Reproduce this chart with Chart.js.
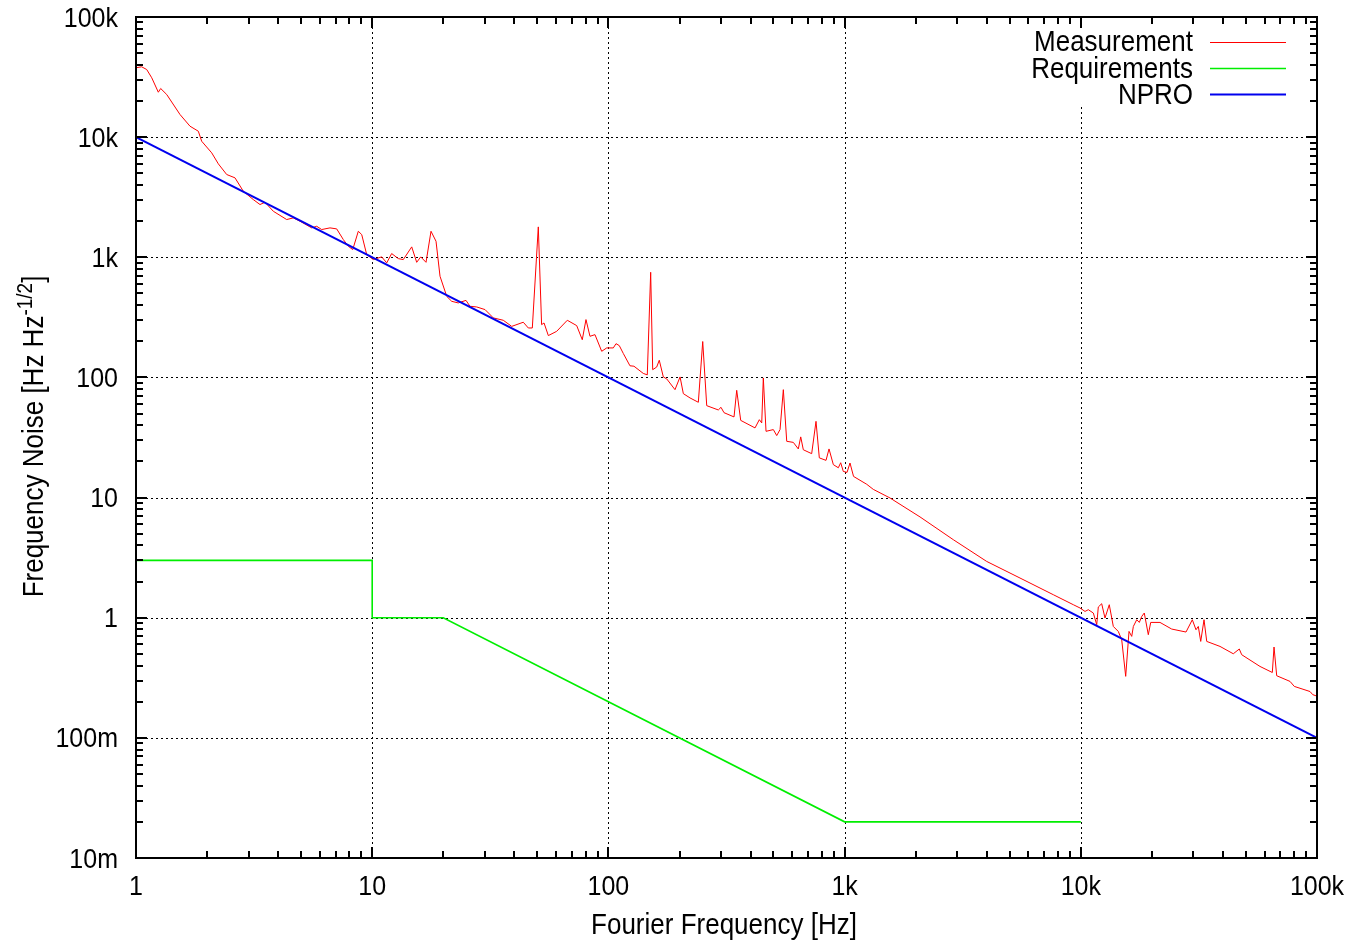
<!DOCTYPE html>
<html>
<head>
<meta charset="utf-8">
<title>Frequency noise</title>
<script src="https://cdn.jsdelivr.net/npm/chart.js@4.4.0/dist/chart.umd.min.js"></script>
<style>
  html, body { margin: 0; padding: 0; background: #fff; }
  #wrap { width: 1365px; height: 944px; }
</style>
</head>
<body>
<div id="wrap"><canvas id="noiseChart" width="1365" height="944"></canvas></div>
<script>
// Fourier frequency [Hz] vs frequency noise [Hz/sqrt(Hz)]
const measFreq = [1.0, 1.057, 1.11, 1.166, 1.243, 1.272, 1.349, 1.536, 1.693, 1.836,
  1.897, 2.092, 2.231, 2.421, 2.625, 2.847, 3.138, 3.35, 3.517, 3.814,
  4.345, 4.634, 4.948, 5.545, 5.821, 6.112, 6.627, 7.074, 7.546, 7.922,
  8.272, 8.733, 9.03, 9.478, 10.11, 10.97, 11.52, 12.09, 12.9, 13.54,
  14.7, 15.43, 16.05, 16.9, 17.74, 18.63, 19.37, 20.68, 21.71, 23.14,
  24.95, 25.94, 27.7, 30.04, 32.57, 35.89, 38.96, 43.62, 45.81, 47.63,
  50.49, 52.14, 53.4, 55.68, 60.4, 66.99, 73.41, 77.52, 80.37, 83.56,
  87.74, 93.67, 98.35, 104.9, 107.7, 111.2, 115.7, 123.4, 128.3, 140.5,
  146.1, 151.0, 154.0, 160.1, 164.2, 170.8, 176.6, 191.4, 201.1, 207.6,
  221.6, 240.3, 250.8, 260.8, 292.0, 299.7, 308.6, 340.3, 349.3, 363.2,
  417.6, 435.5, 445.8, 452.8, 464.9, 499.2, 516.0, 532.9, 550.3, 568.8,
  606.6, 636.8, 652.0, 668.7, 725.5, 756.8, 781.6, 834.3, 859.1, 896.0,
  940.6, 962.7, 987.4, 1024, 1054, 1091, 1241, 1323, 1557, 2086,
  2886, 3996, 5528, 7649, 9297, 9922, 10420, 10760, 11300, 11680,
  11860, 12260, 12660, 13200, 13730, 14410, 14900, 15490, 16000, 16430,
  16690, 17250, 17690, 18110, 18570, 19310, 19770, 21640, 24250, 27890,
  29660, 30740, 31440, 32190, 33240, 34130, 38850, 44220, 46880, 48000,
  57370, 64690, 65770, 67510, 76870, 80160, 93420, 95900, 99000];
const measNoise = [37800, 38500, 36550, 31190, 23650, 25410, 22640, 15420, 12330, 11200,
  9245, 7400, 5995, 4885, 4585, 3545, 3022, 2748, 2872, 2416,
  2061, 2128, 1995, 1757, 1812, 1702, 1757, 1723, 1404, 1236,
  1159, 1647, 1545, 1053, 957, 1008, 898, 1074, 975, 957,
  1221, 908, 1008, 908, 1647, 1359, 695, 473, 430, 417,
  438, 391, 386, 367, 313, 299, 266, 288, 258, 258,
  1791, 275, 284, 223, 242, 299, 270, 206, 303, 220,
  227, 165, 176, 176, 191, 184, 158, 125, 124, 108,
  105, 750, 116, 122, 139, 101, 97.2, 79.1, 101, 73.3,
  67.5, 62.1, 199, 58.2, 53.6, 56.4, 50.9, 46.9, 78.1, 43.9,
  38.0, 44.5, 41.8, 99.0, 35.6, 36.8, 32.8, 36.8, 79.1, 29.4,
  28.8, 25.4, 32.0, 25.0, 23.2, 43.1, 21.4, 20.4, 25.4, 18.8,
  17.7, 19.5, 16.5, 16.2, 19.4, 15.0, 12.9, 11.7, 9.92, 6.90,
  4.46, 2.94, 2.14, 1.554, 1.283, 1.205, 1.128, 1.166, 1.094, 0.874,
  1.228, 1.308, 0.994, 1.283, 0.846, 0.769, 0.656, 0.325, 0.769, 0.699,
  0.846, 0.962, 0.914, 1.025, 1.094, 0.722, 0.914, 0.914, 0.805, 0.760,
  0.962, 0.794, 0.846, 0.635, 0.962, 0.635, 0.577, 0.501, 0.549, 0.492,
  0.393, 0.350, 0.570, 0.329, 0.295, 0.268, 0.243, 0.229, 0.224];

const reqFreq = [1, 10, 10, 20, 1000, 10000];
const reqNoise = [3, 3, 1, 1, 0.02, 0.02];

const nproFreq = [1, 100000];
const nproNoise = [10000, 0.1];

const xTicks = [1, 10, 100, 1000, 10000, 100000];
const xTickLabels = ['1', '10', '100', '1k', '10k', '100k'];
const yTicks = [0.01, 0.1, 1, 10, 100, 1000, 10000, 100000];
const yTickLabels = ['10m', '100m', '1', '10', '100', '1k', '10k', '100k'];

const FONT = '"Liberation Sans", Arial, sans-serif';
const STRETCH = 1.12; // gnuplot glyphs are a bit taller than Arial

function pairs(xs, ys) {
    return xs.map((v, i) => ({ x: v, y: ys[i] }));
}

function drawText(ctx, text, x, y, size, align) {
    ctx.save();
    ctx.translate(x, y);
    ctx.scale(1, STRETCH);
    ctx.font = size + 'px ' + FONT;
    ctx.textAlign = align;
    ctx.textBaseline = 'alphabetic';
    ctx.fillStyle = '#000';
    ctx.fillText(text, 0, 0);
    ctx.restore();
}

// minor tick values 2..9 x decade inside [min, max]
function minorValues(min, max) {
    const out = [];
    for (let d = min; d < max; d *= 10) {
        for (let m = 2; m <= 9; m++) out.push(d * m);
    }
    return out;
}

const gnuplotLook = {
    id: 'gnuplotLook',
    beforeDatasetsDraw(chart) {
        const { ctx, chartArea: a, scales: { x, y } } = chart;
        ctx.save();
        ctx.strokeStyle = '#000';
        ctx.lineWidth = 1;
        ctx.setLineDash([2, 3]);
        xTicks.forEach(v => {
            const px = Math.round(x.getPixelForValue(v)) + 0.5;
            ctx.beginPath();
            ctx.moveTo(px, a.top);
            ctx.lineTo(px, a.bottom);
            ctx.stroke();
        });
        yTicks.forEach(v => {
            const py = Math.round(y.getPixelForValue(v)) + 0.5;
            ctx.beginPath();
            ctx.moveTo(a.left, py);
            ctx.lineTo(a.right, py);
            ctx.stroke();
        });
        ctx.setLineDash([]);
        // the key hides the grid behind it
        ctx.fillStyle = '#fff';
        ctx.fillRect(1012, 19, 290, 88);
        ctx.restore();
    },
    afterDatasetsDraw(chart) {
        const { ctx, chartArea: a, scales: { x, y } } = chart;
        ctx.save();
        ctx.strokeStyle = '#000';

        // tick marks, pointing inwards on all four sides
        ctx.lineWidth = 2;
        const tick = (x0, y0, x1, y1) => {
            ctx.beginPath(); ctx.moveTo(x0, y0); ctx.lineTo(x1, y1); ctx.stroke();
        };
        const xm = xTicks.map(v => [v, 11]).concat(minorValues(1, 100000).map(v => [v, 7]));
        xm.forEach(([v, len]) => {
            const px = Math.round(x.getPixelForValue(v));
            tick(px, a.bottom, px, a.bottom - len);
            tick(px, a.top, px, a.top + len);
        });
        const ym = yTicks.map(v => [v, 11]).concat(minorValues(0.01, 100000).map(v => [v, 7]));
        ym.forEach(([v, len]) => {
            const py = Math.round(y.getPixelForValue(v));
            tick(a.left, py, a.left + len, py);
            tick(a.right, py, a.right - len, py);
        });

        // frame
        ctx.lineWidth = 2;
        ctx.strokeRect(a.left, a.top, a.right - a.left, a.bottom - a.top);

        // tick labels
        xTicks.forEach((v, i) => {
            drawText(ctx, xTickLabels[i], x.getPixelForValue(v), a.bottom + 37, 25, 'center');
        });
        yTicks.forEach((v, i) => {
            drawText(ctx, yTickLabels[i], a.left - 18, y.getPixelForValue(v) + 9.5, 25, 'right');
        });

        // axis titles
        drawText(ctx, 'Fourier Frequency [Hz]', 724, 934, 26, 'center');

        ctx.save();
        ctx.translate(43, 436.5);
        ctx.rotate(-Math.PI / 2);
        ctx.scale(1, STRETCH);
        ctx.fillStyle = '#000';
        ctx.textBaseline = 'alphabetic';
        ctx.textAlign = 'left';
        const mainTxt = 'Frequency Noise [Hz Hz';
        const supTxt = '-1/2';
        const endTxt = ']';
        ctx.font = '26px ' + FONT;
        const w1 = ctx.measureText(mainTxt).width;
        const w3 = ctx.measureText(endTxt).width;
        ctx.font = '19px ' + FONT;
        const w2 = ctx.measureText(supTxt).width;
        let cx = -(w1 + w2 + w3) / 2;
        ctx.font = '26px ' + FONT;
        ctx.fillText(mainTxt, cx, 0);
        cx += w1;
        ctx.font = '19px ' + FONT;
        ctx.fillText(supTxt, cx, -10);
        cx += w2;
        ctx.font = '26px ' + FONT;
        ctx.fillText(endTxt, cx, 0);
        ctx.restore();

        // key: text right aligned, line sample on the right
        chart.data.datasets.forEach((ds, i) => {
            const rowY = 41.7 + i * 26.3;
            drawText(ctx, ds.label, 1193, rowY + 9.5, 26, 'right');
            ctx.strokeStyle = ds.borderColor;
            ctx.lineWidth = ds.borderWidth;
            ctx.beginPath();
            ctx.moveTo(1210, Math.round(rowY) + 0.5);
            ctx.lineTo(1286, Math.round(rowY) + 0.5);
            ctx.stroke();
        });
        ctx.restore();
    }
};

new Chart(document.getElementById('noiseChart'), {
    type: 'scatter',
    data: {
        datasets: [
            {
                label: 'Measurement',
                data: pairs(measFreq, measNoise),
                borderColor: '#ff0000',
                borderWidth: 1,
                showLine: true,
                pointRadius: 0,
                pointHoverRadius: 0,
                order: 3,
            },
            {
                label: 'Requirements',
                data: pairs(reqFreq, reqNoise),
                borderColor: '#00ee00',
                borderWidth: 1.6,
                showLine: true,
                pointRadius: 0,
                pointHoverRadius: 0,
                order: 2,
            },
            {
                label: 'NPRO',
                data: pairs(nproFreq, nproNoise),
                borderColor: '#0000ee',
                borderWidth: 2,
                showLine: true,
                pointRadius: 0,
                pointHoverRadius: 0,
                order: 1,
            },
        ],
    },
    options: {
        responsive: false,
        animation: false,
        devicePixelRatio: 1,
        layout: { padding: { top: 17, right: 48, left: 0, bottom: 0 } },
        plugins: {
            legend: { display: false },
            tooltip: { enabled: false },
        },
        scales: {
            x: {
                type: 'logarithmic',
                min: 1,
                max: 100000,
                ticks: { display: false },
                grid: { display: false },
                border: { display: false },
                afterBuildTicks: s => { s.ticks = xTicks.map(v => ({ value: v })); },
                afterFit: s => { s.height = 86; },
            },
            y: {
                type: 'logarithmic',
                min: 0.01,
                max: 100000,
                ticks: { display: false },
                grid: { display: false },
                border: { display: false },
                afterBuildTicks: s => { s.ticks = yTicks.map(v => ({ value: v })); },
                afterFit: s => { s.width = 136; },
            },
        },
    },
    plugins: [gnuplotLook],
});
</script>
</body>
</html>
